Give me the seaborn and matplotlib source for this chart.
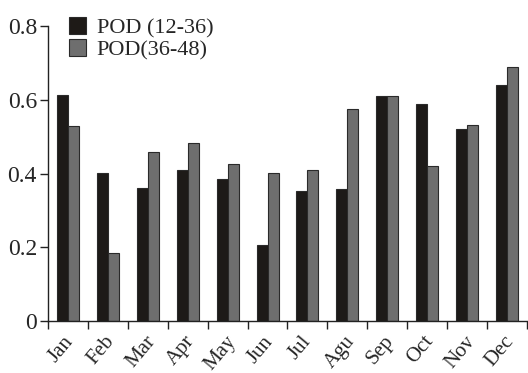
import numpy as np
import pandas as pd
import seaborn as sns
import matplotlib.pyplot as plt
import matplotlib.transforms as mtransforms
from matplotlib.patches import Patch

months = ['Jan', 'Feb', 'Mar', 'Apr', 'May', 'Jun', 'Jul', 'Agu', 'Sep', 'Oct', 'Nov', 'Dec']
pod_12_36 = [0.613, 0.402, 0.362, 0.410, 0.386, 0.206, 0.353, 0.358, 0.611, 0.589, 0.520, 0.639]
pod_36_48 = [0.528, 0.185, 0.460, 0.484, 0.427, 0.403, 0.410, 0.574, 0.611, 0.421, 0.533, 0.690]
series = ['POD (12-36)', 'POD(36-48)']
colors = ['#1e1a17', '#6e6e6e']

df = pd.DataFrame({
    'Month': months * 2,
    'POD': pod_12_36 + pod_36_48,
    'Series': [series[0]] * 12 + [series[1]] * 12,
})

sns.set_style('ticks')
plt.rcParams['font.family'] = ['Liberation Serif', 'DejaVu Serif']

fig = plt.figure(figsize=(5.28, 3.73), dpi=100)
ax = fig.add_axes([0.091, 0.139, 0.907, 0.791])

sns.barplot(data=df, x='Month', y='POD', hue='Series', palette=colors,
            width=0.55, edgecolor='#2a2a2a', linewidth=0.8, ax=ax, legend=False)

ax.set_xlim(-0.5, 11.5)
ax.set_ylim(0, 0.8)
ax.set_yticks([0, 0.2, 0.4, 0.6, 0.8])
ax.set_yticklabels(['0', '0.2', '0.4', '0.6', '0.8'], fontsize=17)
ax.set_xticks(np.arange(-0.5, 12, 1))
ax.set_xticklabels([])
ax.set_xticks(np.arange(12), minor=True)
ax.set_xticklabels(months, minor=True, rotation=50, ha='center', fontsize=15)
ax.tick_params(axis='x', which='minor', length=0, pad=8)
ax.tick_params(axis='both', which='major', length=6, width=1, direction='out', color='#222222')
ax.tick_params(axis='y', pad=2)
# nudge month labels a bit to the left like the original
shift = mtransforms.ScaledTranslation(-7 / 100, 0, fig.dpi_scale_trans)
for lbl in ax.get_xticklabels(minor=True):
    lbl.set_transform(lbl.get_transform() + shift)
ax.set_xlabel('')
ax.set_ylabel('')
sns.despine(ax=ax)
for s in ['left', 'bottom']:
    ax.spines[s].set_color('#222222')
    ax.spines[s].set_linewidth(1)

handles = [Patch(facecolor=c, edgecolor='#2a2a2a', linewidth=0.8) for c in colors]
ax.legend(handles, series, loc='upper left', bbox_to_anchor=(0.025, 1.06), frameon=False,
          fontsize=16, handlelength=0.75, handleheight=0.75, handletextpad=0.5,
          labelspacing=0.05, borderaxespad=0)

fig.savefig('out.png', dpi=100)
